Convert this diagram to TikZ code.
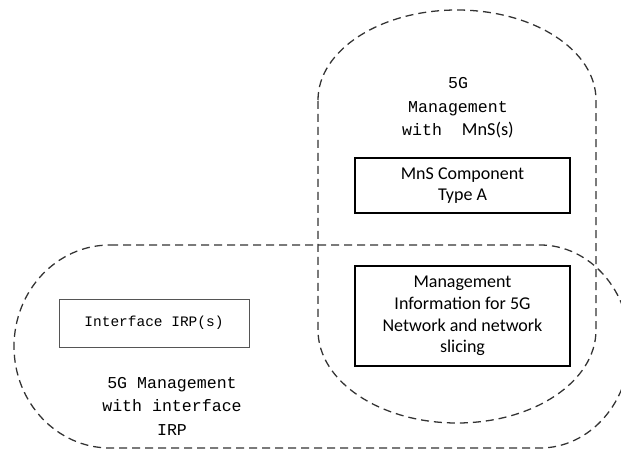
\documentclass[tikz,border=0pt]{standalone}
\usepackage{fontspec}
\setmainfont{Carlito}
\newfontfamily\irpfont{Liberation Mono}
\begin{document}
\begin{tikzpicture}[
    region/.style={line width=0.032cm, dash pattern=on 0.2cm off 0.125cm},
    mnsbox/.style={draw, line width=0.05cm, minimum width=5.375cm, align=center,
      font=\fontsize{12.8}{15.4}\selectfont},
    irpbox/.style={draw=r85g85b85, line width=0.025cm, minimum width=4.75cm,
      minimum height=1.2cm, font=\irpfont\fontsize{10.3}{14}\selectfont},
    irptext/.style={align=center, font=\irpfont\fontsize{11.8}{16.7}\selectfont}
  ]
  % \clip (0,0) rectangle (15.525000,11.250000);
  \useasboundingbox (0.000000,0.000000) rectangle (15.525000,11.250000);

  % Changing color 51 51 51
  \definecolor{r51g51b51}{rgb}{0.200000,0.200000,0.200000}%
  \definecolor{r85g85b85}{rgb}{0.333333,0.333333,0.333333}%

  % Drawing region 5G Management with MnS(s)
  \draw [region, r51g51b51] (7.950000,8.750000) arc (180:0:3.475000 and 2.250000)
    -- (14.900000,3.000000) arc (0:-180:3.475000 and 2.325000) -- cycle;%

  % Drawing region 5G Management with interface IRP
  \draw [region, r51g51b51] (2.750000,5.125000) -- (13.500000,5.125000)
    arc (90:-90:2.250000 and 2.537500) -- (2.750000,0.050000)
    arc (270:90:2.400000 and 2.537500) -- cycle;%

  % Labels of the regions
  \node [irptext] (mnslabel) at (11.450000,8.550000)
    {5G\\Management\\with\ \ {\rmfamily\fontsize{13}{16.7}\selectfont MnS(s)}};
  \node [irptext] (irplabel) at (4.300000,1.100000)
    {5G Management\\with interface\\IRP};

  % Drawing boxes
  \node [mnsbox, minimum height=1.375cm] (mnscomp) at (11.562500,6.612500)
    {MnS Component\\Type A};
  \node [mnsbox, minimum height=2.500000cm] (mgmtinfo) at (11.562500,3.350000)
    {Management\\Information for 5G\\Network and network\\slicing};
  \node [irpbox] (irps) at (3.850000,3.175000) {Interface IRP(s)};
\end{tikzpicture}
\end{document}
